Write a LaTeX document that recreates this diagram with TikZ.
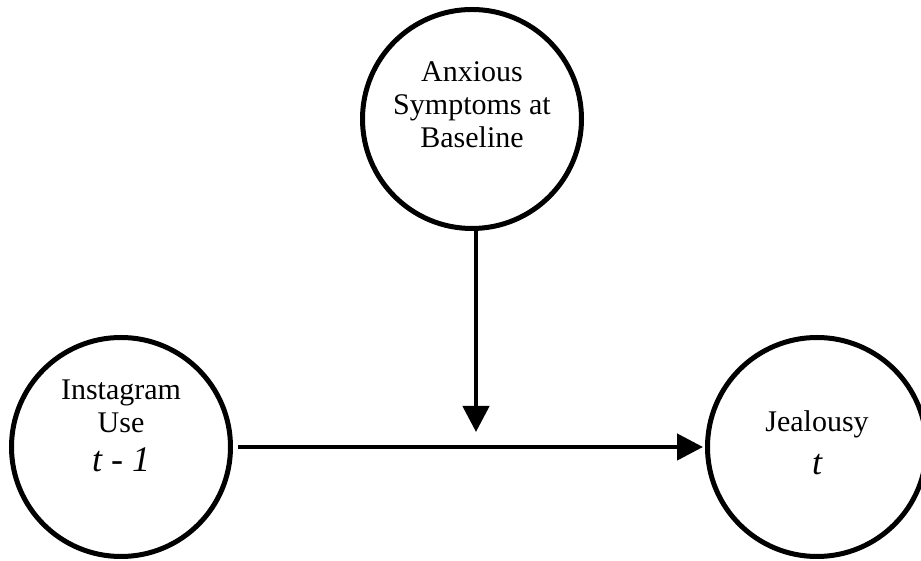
\documentclass[tikz,border=0pt]{standalone}
\usepackage{fontspec}
\setmainfont{Liberation Serif}
\usetikzlibrary{arrows.meta}

\begin{document}
\begin{tikzpicture}[x=1pt,y=1pt,
        var/.style={draw, circle, line width=5pt, minimum size=219pt, inner sep=0pt},
        lbl/.style={anchor=base, align=center, font=\fontsize{30}{33}\selectfont},
        sub/.style={anchor=base, font=\fontsize{36}{40}\selectfont\itshape},
        arr/.style={-{Triangle[length=26pt,width=26pt]}, line width=4.5pt}]
        \useasboundingbox (0,0) rectangle (921,561);
        % Define coordinates
        \coordinate (a) at (472,442);
        \coordinate (u) at (121,114);
        \coordinate (j) at (817,114);
        \coordinate (m) at (476,129);

        % Draw the circles
        \node[var] (anx) at (a) {};
        \node[var] (use) at (u) {};
        \node[var] (jeal) at (j) {};

        % Labels inside the circles (base = last line)
        \node[lbl] (anxlbl) at (472,413) {Anxious\\Symptoms at\\Baseline};
        \node[lbl] (uselbl) at (121,128) {Instagram\\Use};
        \node[sub] (uset) at (121,89) {t - 1};
        \node[lbl] (jeallbl) at (817,129) {Jealousy};
        \node[sub] (jealt) at (817,86) {t};

        % Draw directed edges
        \draw[arr, shorten <=5pt, shorten >=2pt] (use) -- (jeal);
        \draw[arr] (anx.south -| m) -- (m);
    \end{tikzpicture}
\end{document}
